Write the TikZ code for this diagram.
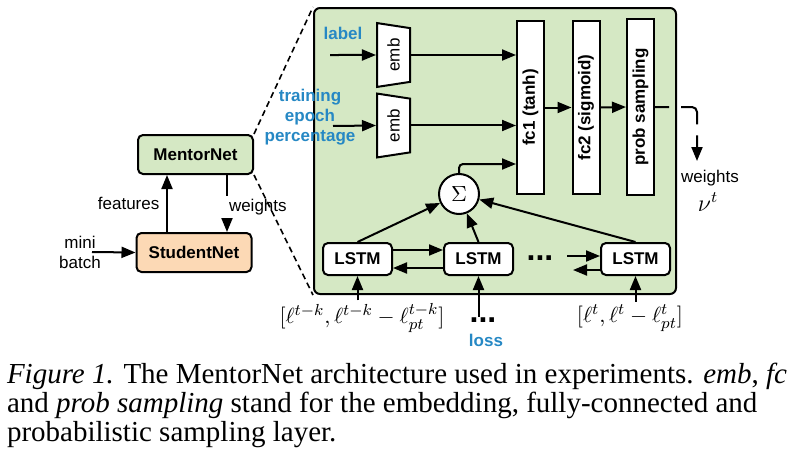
\documentclass[tikz,border=0pt]{standalone}
\usepackage{fontspec}
\setmainfont{Liberation Serif}
\setsansfont{Liberation Sans}
\usepackage{amsmath}
\usetikzlibrary{arrows.meta, shapes.geometric, calc, positioning}

\definecolor{mgreen}{RGB}{213,232,196}
\definecolor{speach}{RGB}{252,217,181}
\definecolor{iblue}{RGB}{38,136,196}

\begin{document}
\begin{tikzpicture}[x=0.5pt, y=-0.5pt, >={Triangle[length=7pt,width=5.5pt]}, line width=1pt,
    net/.style={draw, rounded corners=2.5pt, minimum width=57.5pt, minimum height=19.5pt, font=\sffamily\bfseries\fontsize{8.5}{10}\selectfont},
    panel/.style={draw, fill=mgreen, rounded corners=3pt, minimum width=181pt, minimum height=143pt, inner sep=0pt},
    lstm/.style={draw, fill=white, rounded corners=2.5pt, minimum width=34.5pt, minimum height=16pt, inner sep=0pt, font=\sffamily\bfseries\fontsize{8.5}{10}\selectfont},
    emb/.style={draw, fill=white, trapezium, trapezium left angle=104, trapezium right angle=104, trapezium stretches=true, minimum width=32pt, minimum height=16.5pt, inner sep=0pt, rotate=90, font=\sffamily\fontsize{8.5}{10}\selectfont},
    fc/.style={draw, fill=white, minimum height=13.5pt, inner sep=0pt, rotate=90, font=\sffamily\bfseries\fontsize{8.5}{10}\selectfont},
    txt/.style={font=\sffamily\fontsize{8.5}{10}\selectfont},
    btxt/.style={text=iblue, align=center, font=\sffamily\bfseries\fontsize{8.5}{10}\selectfont},
    dots/.style={font=\sffamily\bfseries\fontsize{16}{16}\selectfont, inner sep=0pt},
    captxt/.style={anchor=base west, inner sep=0pt, font=\fontsize{14.5}{16}\selectfont}
  ]
  \useasboundingbox (0,0) rectangle (798,466);

  % left part
  \node[net, fill=mgreen] (mentor) at (195.5,154.5) {MentorNet};
  \node[net, fill=speach] (student) at (194,252.5) {StudentNet};
  \node[txt, align=center] (minib) at (80,252) {mini\\batch};
  \coordinate (mb) at (92,252);

  \draw[->] (mb) -- (student.west);
  \draw[->] (student.north -| 167,0) -- (mentor.south -| 167,0) node[txt, midway, anchor=east] (feat) {features};
  \draw[->] (mentor.south -| 227,0) -- (student.north -| 227,0);
  \node[txt, fill=white, inner sep=1.5pt, anchor=west] (wlab) at (225,207) {weights};

  % MentorNet in detail
  \node[panel] (mnet) at (495,151) {};
  \draw[dashed, dash pattern=on 3pt off 2pt, line width=0.8pt] (mentor.north east) -- (mnet.north west);
  \draw[dashed, dash pattern=on 3pt off 2pt, line width=0.8pt] (mentor.south east) -- (mnet.south west);

  \node[btxt] (lab) at (343,33) {label};
  \node[btxt] (epoch) at (310,117) {training\\epoch\\percentage};
  \node[emb] (emb1) at (393.5,55) {emb};
  \node[emb] (emb2) at (393.5,125.5) {emb};
  \coordinate (lin) at (330,55);
  \coordinate (ein) at (333,126);
  \draw[->] (lin) -- (emb1.north);
  \draw[->] (ein) -- (emb2.north);

  \node[fc, minimum width=86.5pt] (fc1) at (530.5,107.5) {fc1 (tanh)};
  \node[fc, minimum width=86.5pt] (fc2) at (586,107.5) {fc2 (sigmoid)};
  \node[fc, minimum width=88pt] (prob) at (640.5,107) {prob sampling};
  \draw[->] (emb1.south) -- (emb1.south -| fc1.north);
  \draw[->] (emb2.south) -- (emb2.south -| fc1.north);
  \draw[->] (fc1.south) -- (fc2.north);
  \draw[->] (fc2.south) -- (prob.north);

  \node[draw, circle, fill=white, minimum size=20pt, inner sep=0pt, font=\fontsize{11}{12}\selectfont] (sig) at (459,194) {$\Sigma$};
  \draw[->, rounded corners=2pt] (sig.north) |- ([yshift=15.5pt]fc1.north west);

  \node[lstm] (l1) at (357.5,259) {LSTM};
  \node[lstm] (l2) at (478.5,259) {LSTM};
  \node[lstm] (l3) at (635.5,259) {LSTM};
  \node[dots] (mdots) at (540,258) {...};
  \coordinate (din) at (567,256);
  \coordinate (dout) at (573,270);

  \draw[->] ([yshift=4.5pt]l1.east) -- ([yshift=4.5pt]l2.west);
  \draw[->] ([yshift=-4.5pt]l2.west) -- ([yshift=-4.5pt]l1.east);
  \draw[->] (din) -- (din -| l3.west);
  \draw[->] (l3.west |- dout) -- (dout);
  \draw[->] (l1.north) -- (sig);
  \draw[->] (l2.north) -- (sig);
  \draw[->] (l3.north) -- (sig);

  % inputs
  \node[inner sep=1pt, font=\fontsize{11}{12}\selectfont] (in1) at (362,318) {$[\ell^{t-k}, \ell^{t-k} - \ell^{t-k}_{pt}]$};
  \node[dots] (idots) at (483,320) {...};
  \node[btxt] (loss) at (486,340) {loss};
  \node[inner sep=1pt, font=\fontsize{11}{12}\selectfont] (in3) at (630,318) {$[\ell^{t}, \ell^{t} - \ell^{t}_{pt}]$};
  \draw[->] (l1.south |- in1.north) -- (l1.south);
  \draw[->] (l2.south |- idots.north) -- (l2.south);
  \draw[->] (l3.south |- in3.north) -- (l3.south);

  % output
  \coordinate (vt) at (697,161);
  \draw[->, rounded corners=2.5pt, dash pattern=on 7pt off 6pt on 15.5pt off 5.5pt on 40pt] (prob.south) -| (vt);
  \node[txt] (wout) at (710,178) {weights};
  \node[font=\fontsize{12}{13}\selectfont] (nu) at (708,202) {$\nu^t$};

  % caption
  \node[captxt] (cap1) at (6,383) {\textit{Figure 1.} The MentorNet architecture used in experiments. \textit{emb}, \textit{fc}};
  \node[captxt] (cap2) at (6,412) {and \textit{prob sampling} stand for the embedding, fully-connected and};
  \node[captxt] (cap3) at (6,441) {probabilistic sampling layer.};
\end{tikzpicture}
\end{document}
